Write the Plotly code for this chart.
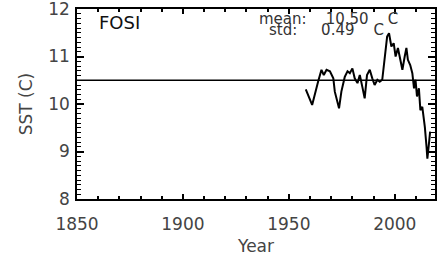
import plotly.graph_objects as go

years = [1958.0, 1961.0, 1963.8, 1965.4, 1966.5, 1967.8, 1969.4, 1971.0, 1971.7, 1973.7,
         1974.8, 1976.4, 1977.7, 1978.8, 1980.0, 1981.1, 1982.4, 1983.5, 1984.7, 1985.8,
         1986.9, 1988.2, 1989.4, 1990.5, 1991.8, 1992.9, 1994.1, 1995.3, 1996.4, 1997.3,
         1998.4, 1999.5, 2000.4, 2001.5, 2002.6, 2003.6, 2004.7, 2005.5, 2006.2, 2007.3,
         2008.3, 2009.1, 2009.8, 2010.5, 2011.4, 2012.1, 2013.0, 2014.2, 2015.0, 2015.4,
         2016.0, 2016.7]
sst = [10.31, 9.98, 10.47, 10.72, 10.61, 10.72, 10.69, 10.54, 10.26, 9.91,
       10.26, 10.57, 10.69, 10.65, 10.75, 10.54, 10.44, 10.61, 10.36, 10.12,
       10.61, 10.72, 10.54, 10.40, 10.51, 10.47, 10.51, 11.00, 11.42, 11.49,
       11.21, 11.28, 11.00, 11.18, 10.93, 10.72, 11.00, 11.18, 10.93, 10.82,
       10.65, 10.33, 10.51, 10.16, 10.33, 9.87, 9.94, 9.52, 9.10, 8.85,
       9.10, 9.42]
mean_val = 10.50
std_val = 0.49
x_range = [1850, 2019]
y_range = [8, 12]

FAM = "DejaVu Sans, Liberation Sans, Arial, sans-serif"
NB = "\u00a0"

fig = go.Figure()
fig.add_trace(go.Scatter(x=x_range, y=[mean_val, mean_val], mode="lines",
                         line=dict(color="black", width=1.5), hoverinfo="skip"))
fig.add_trace(go.Scatter(x=years, y=sst, mode="lines",
                         line=dict(color="black", width=2)))
# invisible traces that activate the extra tick-only axes (mirrored + minor ticks)
for xa, ya in (("x2", "y2"), ("x3", "y3"), ("x4", "y4")):
    fig.add_trace(go.Scatter(x=x_range, y=y_range, xaxis=xa, yaxis=ya,
                             mode="markers", marker=dict(opacity=0), hoverinfo="skip"))

common = dict(showgrid=False, zeroline=False, ticks="inside", tickwidth=1.5,
              tickcolor="black", showline=True, linecolor="black", linewidth=1.5,
              automargin=False)
ghost = dict(showgrid=False, zeroline=False, ticks="inside", tickcolor="black",
             showline=False, showticklabels=False, automargin=False)

xmajor = dict(tickmode="linear", tick0=1850, dtick=50, ticklen=5)
ymajor = dict(tickmode="linear", tick0=8, dtick=1, ticklen=7)
xminor = dict(tickmode="linear", tick0=1850, dtick=10, ticklen=3, tickwidth=1.5)
yminor = dict(tickmode="linear", tick0=8, dtick=0.1, ticklen=4, tickwidth=1)

fig.update_layout(
    width=438, height=256,
    margin=dict(l=77, r=3, t=9, b=57),
    plot_bgcolor="white", paper_bgcolor="white",
    showlegend=False,
    font=dict(family=FAM, size=17, color="#444"),
    xaxis=dict(range=x_range, mirror=True, ticklabeloverflow="allow",
               ticklabelstandoff=9,
               title=dict(text="Year", font=dict(size=17), standoff=11),
               **xmajor, **common),
    yaxis=dict(range=y_range, mirror=True, ticklabeloverflow="allow",
               ticklabelstandoff=2,
               title=dict(text="SST (C)", font=dict(size=17), standoff=11),
               **ymajor, **common),
    xaxis2=dict(range=x_range, overlaying="x", side="top", anchor="y",
                showticklabels=False, **xmajor, **common),
    yaxis2=dict(range=y_range, overlaying="y", side="right", anchor="x",
                showticklabels=False, **ymajor, **common),
    xaxis3=dict(range=x_range, overlaying="x", side="bottom", anchor="y", **xminor, **ghost),
    yaxis3=dict(range=y_range, overlaying="y", side="left", anchor="x", **yminor, **ghost),
    xaxis4=dict(range=x_range, overlaying="x", side="top", anchor="y", **xminor, **ghost),
    yaxis4=dict(range=y_range, overlaying="y", side="right", anchor="x", **yminor, **ghost),
)

fig.add_annotation(xref="paper", yref="paper", x=0.057, y=0.93, xanchor="left",
                   yanchor="middle", text="FOSI", showarrow=False,
                   font=dict(size=18, color="#111"))
fig.add_annotation(xref="paper", yref="paper", x=0.503, y=0.948, xanchor="left",
                   yanchor="middle", showarrow=False,
                   text="mean:" + NB * 4 + f"{mean_val:.2f}" + NB * 4 + "C",
                   font=dict(size=15, color="#333"))
fig.add_annotation(xref="paper", yref="paper", x=0.531, y=0.89, xanchor="left",
                   yanchor="middle", showarrow=False,
                   text="std:" + NB * 5 + f"{std_val:.2f}" + NB * 4 + "C",
                   font=dict(size=15, color="#333"))

fig.write_html("out.html", config={"displayModeBar": False},
               post_script="document.body.style.margin='0';")
